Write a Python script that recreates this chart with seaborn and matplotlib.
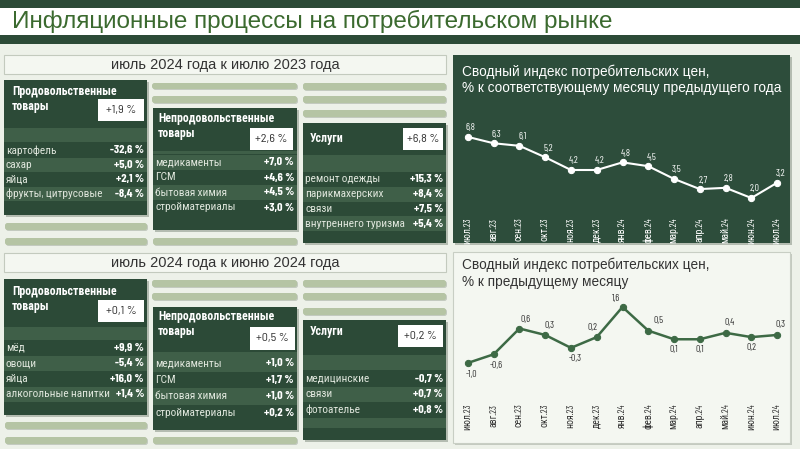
import numpy as np
import pandas as pd
import seaborn as sns
import matplotlib.pyplot as plt
from matplotlib.patches import Rectangle, FancyBboxPatch

# ---- data ----
months = ['июл.23', 'авг.23', 'сен.23', 'окт.23', 'ноя.23', 'дек.23', 'янв.24',
          'фев.24', 'мар.24', 'апр.24', 'май.24', 'июн.24', 'июл.24']
cpi_yoy = [6.8, 6.3, 6.1, 5.2, 4.2, 4.2, 4.8, 4.5, 3.5, 2.7, 2.8, 2.0, 3.2]
cpi_mom = [-1.0, -0.6, 0.6, 0.3, -0.3, 0.2, 1.6, 0.5, 0.1, 0.1, 0.4, 0.2, 0.3]

food_yoy_total = 1.9
food_yoy_names = ['картофель', 'сахар', 'яйца', 'фрукты, цитрусовые']
food_yoy_vals = [-32.6, 5.0, 2.1, -8.4]
nonfood_yoy_total = 2.6
nonfood_yoy_names = ['медикаменты', 'ГСМ', 'бытовая химия', 'стройматериалы']
nonfood_yoy_vals = [7.0, 4.6, 4.5, 3.0]
serv_yoy_total = 6.8
serv_yoy_names = ['ремонт одежды', 'парикмахерских', 'связи', 'внутреннего туризма']
serv_yoy_vals = [15.3, 8.4, 7.5, 5.4]

food_mom_total = 0.1
food_mom_names = ['мёд', 'овощи', 'яйца', 'алкогольные напитки']
food_mom_vals = [9.9, -5.4, 16.0, 1.4]
nonfood_mom_total = 0.5
nonfood_mom_names = ['медикаменты', 'ГСМ', 'бытовая химия', 'стройматериалы']
nonfood_mom_vals = [1.0, 1.7, 1.0, 0.2]
serv_mom_total = 0.2
serv_mom_names = ['медицинские', 'связи', 'фотоателье']
serv_mom_vals = [-0.7, 0.7, 0.8]

# ---- style ----
sns.set_theme(style='white')
plt.rcParams['font.family'] = ['Liberation Sans', 'DejaVu Sans']
SEMI = ['Barlow Semi Condensed', 'Roboto Condensed', 'DejaVu Sans']
COND = ['Barlow Condensed', 'Roboto Condensed', 'DejaVu Sans']

DARK = '#2c4a37'
ROW = '#3f5f48'
SAGE = '#b5c4a4'
BG = '#edf1e9'
GREEN_TXT = '#3b6a2f'


def fmt(v):
    return f'{v:+.1f} %'.replace('.', ',')


fig = plt.figure(figsize=(8, 4.49), dpi=100, facecolor=BG)
bg = fig.add_axes([0, 0, 1, 1])
bg.set_xlim(0, 800)
bg.set_ylim(449, 0)
bg.axis('off')


def rect(x0, y0, x1, y1, color, **kw):
    bg.add_patch(Rectangle((x0, y0), x1 - x0, y1 - y0, facecolor=color, edgecolor='none', **kw))


def sage_bar(x0, y0, x1, y1):
    bg.add_patch(FancyBboxPatch((x0 + 1, y0 + 1), x1 - x0, y1 - y0, boxstyle='round,pad=0,rounding_size=2.5',
                                facecolor='#9aa596', edgecolor='none', alpha=0.5))
    bg.add_patch(FancyBboxPatch((x0, y0), x1 - x0, y1 - y0, boxstyle='round,pad=0,rounding_size=2.5',
                                facecolor=SAGE, edgecolor='none'))


def panel(x0, y0, x1, y1, title, tpos, total, box, head, rows_top, step, items, vals, light_first, extra=None):
    rect(x0 + 2, y0 + 2, x1 + 2, y1 + 2, '#8f998c', alpha=0.6)
    rect(x0, y0, x1, y1, DARK)
    rect(x0, head[0], x1, head[1], ROW)
    if extra:
        rect(x0, extra[0], x1, extra[1], ROW)
    for i, (n, v) in enumerate(zip(items, vals)):
        yt = rows_top + i * step
        if (i % 2 == 0) == light_first:
            rect(x0, yt, x1, yt + step, ROW)
        bg.text(x0 + 2, yt + step / 2, n, color='#dfe6dc', fontsize=8.2, family=COND, va='center', ha='left')
        bg.text(x1 - 3, yt + step / 2, fmt(v), color='white', fontsize=8.7, family=COND,
                fontweight='bold', va='center', ha='right')
    for j, line in enumerate(title):
        bg.text(tpos[0], tpos[1] + j * 16, line, color='white', fontsize=8.6, family=SEMI,
                fontweight='bold', va='center', ha='left')
    rect(box[0], box[1], box[2], box[3], 'white')
    bg.text((box[0] + box[2]) / 2, (box[1] + box[3]) / 2, fmt(total), color='#333333', fontsize=8.8,
            family=SEMI, va='center', ha='center')


def subtitle(y0, y1, txt):
    bg.add_patch(Rectangle((4, y0), 442, y1 - y0, facecolor='#f4f7f1', edgecolor='#c3cabe', lw=0.8))
    bg.text(225, (y0 + y1) / 2 + 0.5, txt, color='#333333', fontsize=10.5, va='center', ha='center')


# header
rect(0, 0, 800, 8, DARK)
rect(0, 8, 800, 35, 'white')
rect(0, 35, 800, 44, DARK)
bg.text(12, 21.5, 'Инфляционные процессы на потребительском рынке', color=GREEN_TXT,
        fontsize=17.5, va='center', ha='left')

# ---- left: year over year ----
subtitle(55, 74, 'июль 2024 года к июлю 2023 года')
for b in [(5, 223, 147, 230), (5, 238, 147, 245), (152, 83, 297, 89), (152, 96, 297, 103),
          (153, 238, 297, 245), (303, 83, 446, 90), (303, 96, 446, 103), (303, 110, 446, 117)]:
    sage_bar(*b)
panel(4, 80, 147, 215, ['Продовольственные', 'товары'], (12, 92), food_yoy_total, (98, 99, 144, 121),
      (128, 142), 143, 14.5, food_yoy_names, food_yoy_vals, False)
panel(153, 108, 297, 230, ['Непродовольственные', 'товары'], (158, 119), nonfood_yoy_total,
      (250, 128, 293, 150), (151, 154), 155, 15, nonfood_yoy_names, nonfood_yoy_vals, True)
panel(303, 123, 446, 243, ['Услуги'], (310, 139), serv_yoy_total, (403, 128, 443, 150),
      (155, 172), 172, 14.8, serv_yoy_names, serv_yoy_vals, False)

# ---- left: month over month ----
subtitle(253, 272, 'июль 2024 года к июню 2024 года')
for b in [(5, 422, 147, 429), (5, 437, 147, 444), (152, 280, 297, 287), (152, 293, 297, 300),
          (153, 437, 297, 444), (303, 280, 446, 287), (303, 293, 446, 300), (303, 308, 446, 315)]:
    sage_bar(*b)
panel(4, 279, 147, 415, ['Продовольственные', 'товары'], (12, 292), food_mom_total, (98, 300, 144, 322),
      (327, 340), 340, 15.5, food_mom_names, food_mom_vals, False)
panel(153, 307, 297, 430, ['Непродовольственные', 'товары'], (158, 317), nonfood_mom_total,
      (250, 327, 295, 350), (352, 355), 355, 16.5, nonfood_mom_names, nonfood_mom_vals, True)
panel(303, 320, 446, 440, ['Услуги'], (310, 332), serv_mom_total, (398, 325, 443, 347),
      (355, 370), 371, 15.5, serv_mom_names, serv_mom_vals, False, extra=(418, 428))

# ---- right panels ----
rect(455, 57, 792, 245, '#8f998c', alpha=0.6)
rect(453, 55, 790, 243, '#2d4d3b')
bg.text(462, 72, 'Сводный индекс потребительских цен,', color='white', fontsize=9.8, va='center')
bg.text(462, 88, '% к соответствующему месяцу предыдущего года', color='white', fontsize=9.8, va='center')

rect(455, 254, 792, 445, '#a9b1a5', alpha=0.6)
bg.add_patch(Rectangle((453, 252), 337, 191, facecolor='#f4f7f1', edgecolor='#c8cec4', lw=0.8))
bg.text(462, 265, 'Сводный индекс потребительских цен,', color='#333333', fontsize=9.8, va='center')
bg.text(462, 282, '% к предыдущему месяцу', color='#333333', fontsize=9.8, va='center')

pos = np.arange(len(months))
df = pd.DataFrame({'pos': pos, 'month': months, 'yoy': cpi_yoy, 'mom': cpi_mom})


def chart_axes(top_px, bottom_px, ylim):
    ax = fig.add_axes([455 / 800, 1 - bottom_px / 449, 335 / 800, (bottom_px - top_px) / 449])
    ax.set_facecolor('none')
    ax.set_xlim(-0.5, len(months) - 0.5)
    ax.set_ylim(*ylim)
    for s in ax.spines.values():
        s.set_visible(False)
    ax.set_yticks([])
    return ax


# year-over-year line
ax1 = chart_axes(100, 212, (0.9, 9.7))
sns.lineplot(data=df, x='pos', y='yoy', ax=ax1, color='white', lw=1.5, marker='o', markersize=4.5,
             markeredgecolor='white')
ax1.set_xticks(pos)
ax1.set_xticklabels(months, rotation=90, color='white', fontsize=7, family=COND)
ax1.tick_params(axis='x', length=0, pad=4)
ax1.set_xlabel('')
ax1.set_ylabel('')
for x, v in zip(pos, cpi_yoy):
    ax1.annotate(f'{v:.1f}'.replace('.', ','), (x, v), xytext=(3, 9), textcoords='offset pixels',
                 color='white', fontsize=7, family=COND, ha='center', va='center')

# month-over-month line
ax2 = chart_axes(290, 398, (-2.63, 2.39))
sns.lineplot(data=df, x='pos', y='mom', ax=ax2, color='#3d6a45', lw=1.8, marker='o', markersize=4.5,
             markeredgecolor='#3d6a45')
ax2.set_xticks(pos)
ax2.set_xticklabels(months, rotation=90, color='#333333', fontsize=7, family=COND)
ax2.tick_params(axis='x', length=0, pad=4)
ax2.set_xlabel('')
ax2.set_ylabel('')
mom_offsets = [(4, -12), (3, -11), (6, 9), (4, 9), (4, -11), (-4, 10), (-6, 8), (10, 10),
               (0, -10), (0, -10), (4, 10), (0, -10), (3, 10)]
for x, v, off in zip(pos, cpi_mom, mom_offsets):
    ax2.annotate(f'{v:.1f}'.replace('.', ','), (x, v), xytext=off, textcoords='offset pixels',
                 color='#333333', fontsize=7, family=COND, ha='center', va='center')

fig.savefig('out.png', dpi=100, facecolor=BG)
